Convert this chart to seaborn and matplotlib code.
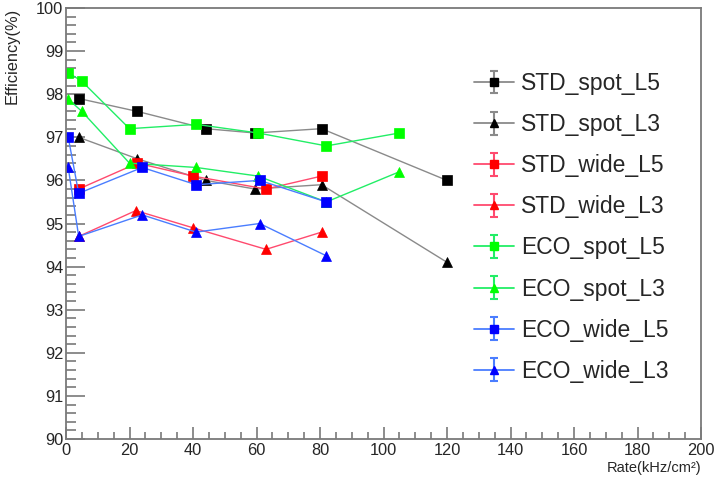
import numpy as np
import pandas as pd
import matplotlib
matplotlib.use("Agg")
import matplotlib.pyplot as plt
import seaborn as sns
from matplotlib.ticker import MultipleLocator

sns.set_style("white")
plt.rcParams["font.family"] = ["Liberation Sans", "DejaVu Sans"]

# ---- data ----
std_spot_l5_x = [4, 22.5, 44, 59.5, 80.5, 120]
std_spot_l5_y = [97.9, 97.6, 97.2, 97.1, 97.2, 96.0]

std_spot_l3_x = [4, 22.5, 44, 59.5, 80.5, 120]
std_spot_l3_y = [97.0, 96.5, 96.0, 95.8, 95.9, 94.1]

std_wide_l5_x = [4, 22.5, 40, 63, 80.5]
std_wide_l5_y = [95.8, 96.4, 96.1, 95.8, 96.1]

std_wide_l3_x = [4, 22, 40, 63, 80.5]
std_wide_l3_y = [94.7, 95.3, 94.9, 94.4, 94.8]

eco_spot_l5_x = [0.7, 5, 20, 41, 60.5, 82, 105]
eco_spot_l5_y = [98.5, 98.3, 97.2, 97.3, 97.1, 96.8, 97.1]

eco_spot_l3_x = [0.5, 5, 20, 41, 60.5, 82, 105]
eco_spot_l3_y = [97.9, 97.6, 96.4, 96.3, 96.1, 95.5, 96.2]

eco_wide_l5_x = [0.7, 4, 24, 41, 61, 82]
eco_wide_l5_y = [97.0, 95.7, 96.3, 95.9, 96.0, 95.5]

eco_wide_l3_x = [0.7, 4, 24, 41, 61, 82]
eco_wide_l3_y = [96.3, 94.7, 95.2, 94.8, 95.0, 94.25]

series_names = ["STD_spot_L5", "STD_spot_L3", "STD_wide_L5", "STD_wide_L3",
                "ECO_spot_L5", "ECO_spot_L3", "ECO_wide_L5", "ECO_wide_L3"]
series_x = [std_spot_l5_x, std_spot_l3_x, std_wide_l5_x, std_wide_l3_x,
            eco_spot_l5_x, eco_spot_l3_x, eco_wide_l5_x, eco_wide_l3_x]
series_y = [std_spot_l5_y, std_spot_l3_y, std_wide_l5_y, std_wide_l3_y,
            eco_spot_l5_y, eco_spot_l3_y, eco_wide_l5_y, eco_wide_l3_y]

marker_colors = ["#000000", "#000000", "#ff0000", "#ff0000",
                 "#00ff00", "#00ff00", "#0000ff", "#0000ff"]
line_colors = ["#8a8a8a", "#8a8a8a", "#ff4a6e", "#ff4a6e",
               "#22ee66", "#22ee66", "#4a7dff", "#4a7dff"]
markers = ["s", "^", "s", "^", "s", "^", "s", "^"]

frames = []
for name, xs, ys in zip(series_names, series_x, series_y):
    frames.append(pd.DataFrame({"rate": xs, "eff": ys, "series": name}))
df = pd.concat(frames, ignore_index=True)

fig = plt.figure(figsize=(7.2, 4.83), dpi=100)
ax = fig.add_axes([66 / 720, 1 - 439 / 483, (701 - 66) / 720, (439 - 8) / 483])

handles = []
for name, lc, mc, mk in zip(series_names, line_colors, marker_colors, markers):
    sub = df[df["series"] == name]
    sns.lineplot(data=sub, x="rate", y="eff", ax=ax, color=lc, linewidth=1.0,
                 marker=mk, markersize=6.8 if mk == "s" else 7.4,
                 markerfacecolor=mc, markeredgecolor=mc, markeredgewidth=0.5,
                 estimator=None, sort=False, legend=False)
    h = ax.errorbar([np.nan], [np.nan], yerr=[1.0], color=lc, ecolor=lc,
                    marker=mk, markersize=6.0, markerfacecolor=mc,
                    markeredgecolor=mc, linewidth=1.3, elinewidth=1.5,
                    capsize=2.6, capthick=1.5, label=name)
    handles.append(h)

ax.set_xlim(0, 200)
ax.set_ylim(90, 100)

ax.xaxis.set_major_locator(MultipleLocator(20))
ax.xaxis.set_minor_locator(MultipleLocator(5))
ax.yaxis.set_major_locator(MultipleLocator(1))
ax.yaxis.set_minor_locator(MultipleLocator(0.2))

tick_col = "#6e6e6e"
ax.tick_params(axis="x", which="major", direction="in", length=9, width=1.1,
               color=tick_col, labelsize=11.8, pad=3, bottom=True, top=False)
ax.tick_params(axis="x", which="minor", direction="in", length=5, width=1.1,
               color=tick_col, bottom=True, top=False)
ax.tick_params(axis="y", which="major", direction="in", length=13.5, width=1.1,
               color=tick_col, labelsize=11.8, pad=2, left=True, right=False)
ax.tick_params(axis="y", which="minor", direction="in", length=7, width=1.1,
               color=tick_col, left=True, right=False)

for sp in ax.spines.values():
    sp.set_color("#7a7a7a")
    sp.set_linewidth(1.3)

ax.set_xlabel("Rate(kHz/cm²)", loc="right", fontsize=10.5, labelpad=2)
ax.set_ylabel("Efficiency(%)", loc="top", fontsize=11.8, labelpad=12)

leg = ax.legend(handles=handles, labels=series_names, loc="upper left",
                bbox_to_anchor=(474 / 720, 1 - 72 / 483),
                bbox_transform=fig.transFigure, frameon=False,
                fontsize=16.5, handlelength=1.75, handletextpad=0.3,
                labelspacing=0.79, borderpad=0, borderaxespad=0)

fig.savefig("out.png", dpi=100)
